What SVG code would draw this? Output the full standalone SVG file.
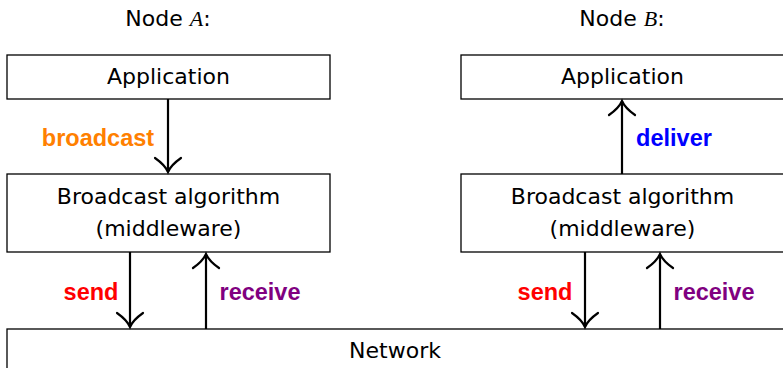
<svg xmlns="http://www.w3.org/2000/svg" width="783" height="368" viewBox="0 0 783 368">
<defs>
<style>
.box{fill:#fff;stroke:#000;stroke-width:1.3}
.t{font-family:"DejaVu Sans","Liberation Sans",sans-serif;font-size:22px;fill:#000;text-anchor:middle}
.lbl{font-family:"Liberation Sans","DejaVu Sans",sans-serif;font-size:23.5px;font-weight:bold;text-anchor:middle}
.m{font-family:"Liberation Serif",serif;font-style:italic}
.ln{stroke:#000;stroke-width:2.2;fill:none}
.hd{stroke:#000;stroke-width:2.2;fill:none;stroke-linecap:round}
</style>
<path id="ah" d="M-13,-14 Q-3,-7 0,0 Q3,-7 13,-14"/>
</defs>
<rect width="783" height="368" fill="#fff"/>
<g id="labelA"><text class="t" x="168" y="26">Node <tspan class="m">A</tspan>:</text></g>
<g id="labelB"><text class="t" x="622" y="26">Node <tspan class="m">B</tspan>:</text></g>
<g id="appA"><rect class="box" x="7" y="55" width="323" height="44"/><text class="t" x="168.5" y="84">Application</text></g>
<g id="appB"><rect class="box" x="461" y="55" width="323" height="44"/><text class="t" x="622.5" y="84">Application</text></g>
<g id="bcA"><rect class="box" x="7" y="174" width="323" height="78"/><text class="t" x="168.5" y="204">Broadcast algorithm</text><text class="t" x="168.5" y="236">(middleware)</text></g>
<g id="bcB"><rect class="box" x="461" y="174" width="323" height="78"/><text class="t" x="622.5" y="204">Broadcast algorithm</text><text class="t" x="622.5" y="236">(middleware)</text></g>
<g id="network"><rect class="box" x="7" y="329" width="777" height="60"/><text class="t" x="395" y="358">Network</text></g>
<g id="connectors">
<line class="ln" x1="168" y1="99" x2="168" y2="172"/>
<use href="#ah" class="hd" transform="translate(168,172)"/>
<text class="lbl" x="98" y="146" fill="#FF8000">broadcast</text>
<line class="ln" x1="622" y1="174" x2="622" y2="101"/>
<use href="#ah" class="hd" transform="translate(622,101) rotate(180)"/>
<text class="lbl" x="674" y="146" fill="#0000FF">deliver</text>
<line class="ln" x1="130" y1="252" x2="130" y2="327"/>
<use href="#ah" class="hd" transform="translate(130,327)"/>
<text class="lbl" x="91" y="300" fill="#FF0000">send</text>
<line class="ln" x1="206" y1="329" x2="206" y2="254"/>
<use href="#ah" class="hd" transform="translate(206,254) rotate(180)"/>
<text class="lbl" x="260" y="300" fill="#800080">receive</text>
<line class="ln" x1="585" y1="252" x2="585" y2="327"/>
<use href="#ah" class="hd" transform="translate(585,327)"/>
<text class="lbl" x="545" y="300" fill="#FF0000">send</text>
<line class="ln" x1="660" y1="329" x2="660" y2="254"/>
<use href="#ah" class="hd" transform="translate(660,254) rotate(180)"/>
<text class="lbl" x="714" y="300" fill="#800080">receive</text>
</g>
</svg>
